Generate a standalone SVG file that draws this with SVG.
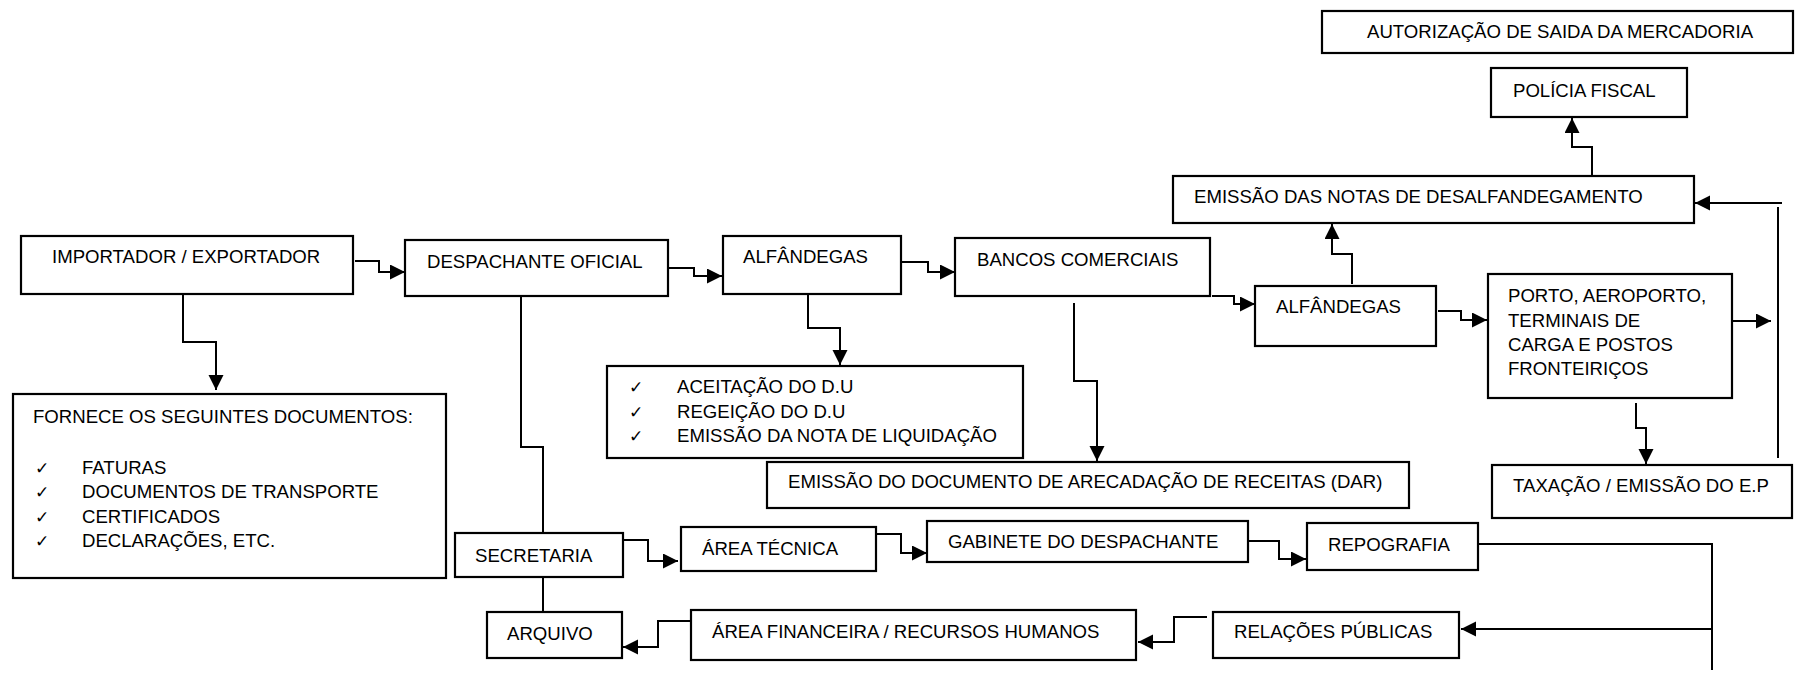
<svg xmlns="http://www.w3.org/2000/svg" width="1795" height="676" viewBox="0 0 1795 676">
<style>
rect.box{fill:#fff;stroke:#000;stroke-width:2.2}
text{font-family:"Liberation Sans",Arial,sans-serif;font-size:18.6px;fill:#000}
text.chk{font-family:"DejaVu Sans",sans-serif;font-size:17px}
.conn path{fill:none;stroke:#000;stroke-width:2}
.conn path.arr{marker-end:url(#ah)}
</style>
<defs>
<marker id="ah" markerUnits="userSpaceOnUse" markerWidth="16" markerHeight="16" refX="15" refY="7.5" orient="auto" viewBox="0 0 16 16">
<path d="M0,0 L15,7.5 L0,15 z" fill="#000"/>
</marker>
</defs>
<rect width="1795" height="676" fill="#fff"/>

<g class="conn" id="connectors">
<path class="arr" d="M355,261 H379 V272 H405"/>
<path class="arr" d="M183,294 V342 H216 V390"/>
<path class="arr" d="M668,268 H694 V276 H722"/>
<path class="arr" d="M901,262 H928 V272 H955"/>
<path class="arr" d="M808,294 V328 H840 V365"/>
<path class="arr" d="M1074,303 V381 H1097 V461"/>
<path class="arr" d="M1212,296 H1234 V304 H1255"/>
<path class="arr" d="M1352,284 V254 H1332 V224"/>
<path class="arr" d="M1592,176 V147 H1572 V118"/>
<path class="arr" d="M1438,311 H1461 V320 H1487"/>
<path class="arr" d="M1732,321 H1771"/>
<path d="M1778,458 V207"/>
<path class="arr" d="M1782,203 H1695"/>
<path class="arr" d="M1636,403 V428 H1646 V464"/>
<path d="M521,270 V447 H543 V533"/>
<path d="M543,577 V612"/>
<path class="arr" d="M623,540 H648 V561 H678"/>
<path class="arr" d="M876,534 H901 V553 H927"/>
<path class="arr" d="M1248,541 H1279 V559 H1306"/>
<path d="M1478,544 H1712 V670"/>
<path class="arr" d="M1712,629 H1461"/>
<path class="arr" d="M1207,617 H1174 V642 H1138"/>
<path class="arr" d="M691,621 H658 V647 H623"/>
</g>

<g id="importador"><rect class="box" x="21" y="236" width="332" height="58"/><text x="52" y="263">IMPORTADOR / EXPORTADOR</text></g>
<g id="fornece"><rect class="box" x="13" y="394" width="433" height="184"/>
<text x="33" y="423">FORNECE OS SEGUINTES DOCUMENTOS:</text>
<text class="chk" x="35" y="474">✓</text><text x="82" y="474">FATURAS</text>
<text class="chk" x="35" y="498">✓</text><text x="82" y="498">DOCUMENTOS DE TRANSPORTE</text>
<text class="chk" x="35" y="523">✓</text><text x="82" y="523">CERTIFICADOS</text>
<text class="chk" x="35" y="547">✓</text><text x="82" y="547">DECLARAÇÕES, ETC.</text>
</g>
<g id="despachante"><rect class="box" x="405" y="240" width="263" height="56"/><text x="427" y="268">DESPACHANTE OFICIAL</text></g>
<g id="alfandegas1"><rect class="box" x="723" y="236" width="178" height="58"/><text x="743" y="263">ALFÂNDEGAS</text></g>
<g id="bancos"><rect class="box" x="955" y="238" width="255" height="58"/><text x="977" y="266">BANCOS COMERCIAIS</text></g>
<g id="aceitacao"><rect class="box" x="607" y="366" width="416" height="92"/>
<text class="chk" x="629" y="393">✓</text><text x="677" y="393">ACEITAÇÃO DO D.U</text>
<text class="chk" x="629" y="418">✓</text><text x="677" y="418">REGEIÇÃO DO D.U</text>
<text class="chk" x="629" y="442">✓</text><text x="677" y="442">EMISSÃO DA NOTA DE LIQUIDAÇÃO</text>
</g>
<g id="dar"><rect class="box" x="767" y="462" width="642" height="46"/><text x="788" y="488">EMISSÃO DO DOCUMENTO DE ARECADAÇÃO DE RECEITAS (DAR)</text></g>
<g id="alfandegas2"><rect class="box" x="1255" y="286" width="181" height="60"/><text x="1276" y="313">ALFÂNDEGAS</text></g>
<g id="desalfandegamento"><rect class="box" x="1173" y="176" width="521" height="47"/><text x="1194" y="203">EMISSÃO DAS NOTAS DE DESALFANDEGAMENTO</text></g>
<g id="policia"><rect class="box" x="1491" y="68" width="196" height="49"/><text x="1513" y="97">POLÍCIA FISCAL</text></g>
<g id="autorizacao"><rect class="box" x="1322" y="11" width="471" height="42"/><text x="1367" y="38">AUTORIZAÇÃO DE SAIDA DA MERCADORIA</text></g>
<g id="porto"><rect class="box" x="1488" y="274" width="244" height="124"/>
<text x="1508" y="302">PORTO, AEROPORTO,</text>
<text x="1508" y="326.5">TERMINAIS DE</text>
<text x="1508" y="350.5">CARGA E POSTOS</text>
<text x="1508" y="374.5">FRONTEIRIÇOS</text>
</g>
<g id="taxacao"><rect class="box" x="1492" y="465" width="300" height="53"/><text x="1513" y="492">TAXAÇÃO / EMISSÃO DO E.P</text></g>
<g id="secretaria"><rect class="box" x="455" y="533" width="168" height="44"/><text x="475" y="562">SECRETARIA</text></g>
<g id="areatecnica"><rect class="box" x="681" y="527" width="195" height="44"/><text x="702" y="555">ÁREA TÉCNICA</text></g>
<g id="gabinete"><rect class="box" x="927" y="521" width="321" height="41"/><text x="948" y="548">GABINETE DO DESPACHANTE</text></g>
<g id="repografia"><rect class="box" x="1307" y="523" width="171" height="47"/><text x="1328" y="551">REPOGRAFIA</text></g>
<g id="relacoes"><rect class="box" x="1213" y="612" width="246" height="46"/><text x="1234" y="638">RELAÇÕES PÚBLICAS</text></g>
<g id="areafinanceira"><rect class="box" x="691" y="610" width="445" height="50"/><text x="712" y="638">ÁREA FINANCEIRA / RECURSOS HUMANOS</text></g>
<g id="arquivo"><rect class="box" x="487" y="612" width="135" height="46"/><text x="507" y="640">ARQUIVO</text></g>
</svg>
